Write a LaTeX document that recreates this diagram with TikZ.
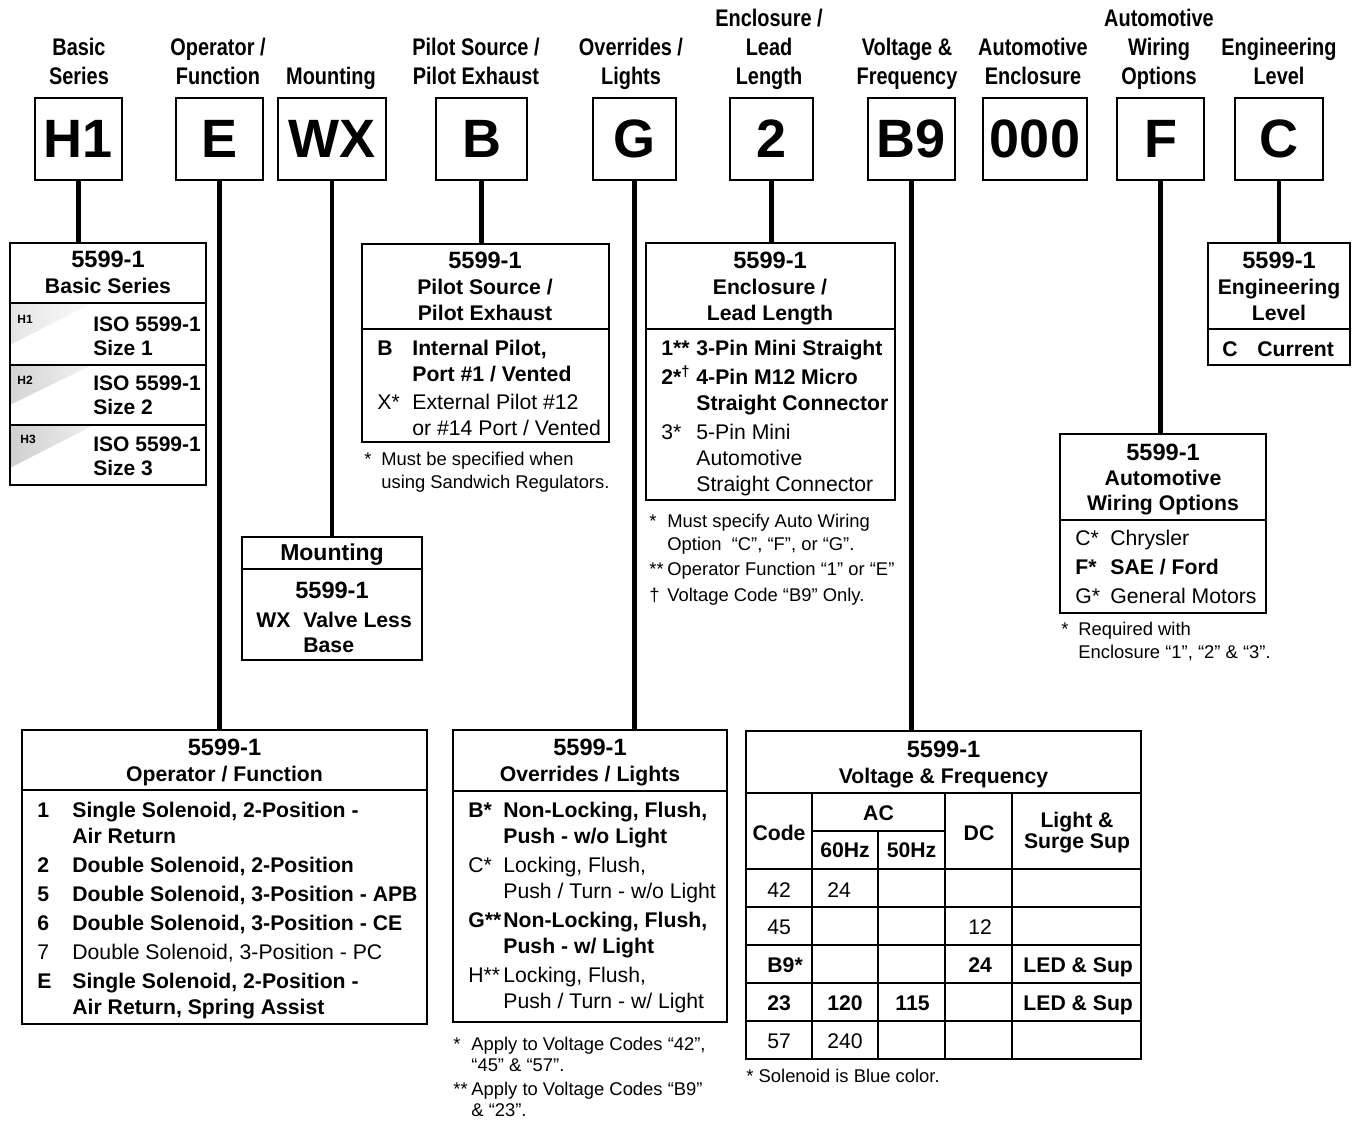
\documentclass[tikz,border=0pt]{standalone}
\usepackage{fontspec}
\setmainfont{Liberation Sans}
\newfontfamily\cond[FakeStretch=0.83]{Liberation Sans}
\usetikzlibrary{fit}
\newcommand{\tbl}[2]{\begin{tabular}[t]{@{}#1@{}}#2\end{tabular}}
\newcommand{\partno}{{\fontsize{11.8}{13}\selectfont 5599-1}}
\tikzset{
	lbl/.style={font=\cond\bfseries\fontsize{12}{14.5}\selectfont, anchor=base, inner sep=0pt},
	code/.style={draw, line width=1pt, inner sep=0pt, minimum height=41pt, font=\bfseries\fontsize{27}{30}\selectfont},
	panel/.style={draw, line width=1.2pt, inner sep=0pt},
	rule/.style={line width=1pt},
	grid/.style={line width=0.8pt},
	wire/.style={line width=2.2pt},
	hd/.style={font=\bfseries\fontsize{10.6}{13}\selectfont, anchor=base, inner sep=0pt},
	item/.style={font=\fontsize{10.6}{13}\selectfont, anchor=base west, inner sep=0pt},
	tag/.style={font=\bfseries\fontsize{6}{7}\selectfont, anchor=base west, inner sep=0pt},
	note/.style={font=\fontsize{9.2}{11.5}\selectfont, anchor=base west, inner sep=0pt},
	th/.style={font=\bfseries\fontsize{10.6}{10.5}\selectfont, anchor=base, inner sep=0pt},
	cell/.style={font=\fontsize{10.6}{12}\selectfont, anchor=base west, inner sep=0pt},
	bcell/.style={cell, font=\bfseries\fontsize{10.6}{12}\selectfont},
}
\begin{document}
\begin{tikzpicture}[x=0.5pt,y=-0.5pt]
	\useasboundingbox (0,0) rectangle (1355,1124);
	% field names
	\node[lbl] (lseries) at (79,55) {\tbl{c}{Basic\\Series}};
	\node[lbl] (loper) at (218,55) {\tbl{c}{Operator /\\Function}};
	\node[lbl] (lmount) at (331,84) {Mounting};
	\node[lbl] (lpilot) at (476,55) {\tbl{c}{Pilot Source /\\Pilot Exhaust}};
	\node[lbl] (lover) at (631,55) {\tbl{c}{Overrides /\\Lights}};
	\node[lbl] (lencl) at (769,26) {\tbl{c}{Enclosure /\\Lead\\Length}};
	\node[lbl] (lvolt) at (907,55) {\tbl{c}{Voltage \&\\Frequency}};
	\node[lbl] (lautoenc) at (1033,55) {\tbl{c}{Automotive\\Enclosure}};
	\node[lbl] (lwiring) at (1159,26) {\tbl{c}{Automotive\\Wiring\\Options}};
	\node[lbl] (leng) at (1279,55) {\tbl{c}{Engineering\\Level}};
	% code boxes
	\node[code, minimum width=43.5pt] (series) at (78.5,139) {H1};
	\node[code, minimum width=43.5pt] (oper) at (219.5,139) {E};
	\node[code, minimum width=54pt] (mount) at (332,139) {WX};
	\node[code, minimum width=45.5pt] (pilot) at (481.5,139) {B};
	\node[code, minimum width=41.5pt] (over) at (634.5,139) {G};
	\node[code, minimum width=41.5pt] (encl) at (771.5,139) {2};
	\node[code, minimum width=43.5pt] (volt) at (911.5,139) {B9};
	\node[code, minimum width=52pt] (autoenc) at (1035,139) {000};
	\node[code, minimum width=43.5pt] (wiring) at (1160.5,139) {F};
	\node[code, minimum width=44pt] (eng) at (1279,139) {C};

	% basic series
	\shade[left color=gray!20, right color=gray!4] (10,303) -- (92,303) -- (10,345) -- cycle;
	\shade[left color=gray!34, right color=gray!10] (10,365) -- (92,365) -- (10,405) -- cycle;
	\shade[left color=gray!38, right color=gray!12] (10,425) -- (94,425) -- (10,468) -- cycle;
	\node[panel, fit={(10,243) (206,485)}] (seriesbox) {};
	\foreach \y in {303,365,425}
		\draw[rule] (seriesbox.west |- 0,\y) -- (seriesbox.east |- 0,\y);
	\node[hd] (serieshd) at (108,267) {\tbl{c}{\partno\\Basic Series}};
	\node[tag] (h1tag) at (17,323) {H1};
	\node[tag] (h2tag) at (17,384) {H2};
	\node[tag] (h3tag) at (20,443) {H3};
	\node[item, font=\bfseries\fontsize{10.5}{12.2}\selectfont] (h1txt) at (93,331) {\tbl{l}{ISO 5599-1\\Size 1}};
	\node[item, font=\bfseries\fontsize{10.5}{12.2}\selectfont] (h2txt) at (93,390) {\tbl{l}{ISO 5599-1\\Size 2}};
	\node[item, font=\bfseries\fontsize{10.5}{12.2}\selectfont] (h3txt) at (93,451) {\tbl{l}{ISO 5599-1\\Size 3}};

	% pilot source
	\node[panel, fit={(362,244) (609,442)}] (pilotbox) {};
	\draw[rule] (pilotbox.west |- 0,329) -- (pilotbox.east |- 0,329);
	\node[hd] (pilothd) at (485,268) {\tbl{c}{\partno\\Pilot Source /\\Pilot Exhaust}};
	\node[item] (pilotitems) at (377,355) {\tbl{p{17.5pt}@{}l}{\textbf{B} & \textbf{Internal Pilot,}\\
		& \textbf{Port \#1 / Vented}\\[1pt]
		X* & External Pilot \#12\\
		& or \#14 Port / Vented}};
	\node[note] (pilotnote) at (364,465) {\tbl{p{8.5pt}@{}l}{* & Must be specified when\\ & using Sandwich Regulators.}};

	% enclosure
	\node[panel, fit={(646,243) (895,500)}] (enclbox) {};
	\draw[rule] (enclbox.west |- 0,329) -- (enclbox.east |- 0,329);
	\node[hd] (enclhd) at (770,268) {\tbl{c}{\partno\\Enclosure /\\Lead Length}};
	\node[item] (enclitems) at (661,355) {\tbl{p{17.5pt}@{}l}{\textbf{1**} & \textbf{3-Pin Mini Straight}\\[1.5pt]
		\textbf{2*\textsuperscript{†}} & \textbf{4-Pin M12 Micro}\\
		& \textbf{Straight Connector}\\[1.5pt]
		3* & 5-Pin Mini\\
		& Automotive\\
		& Straight Connector}};
	\node[note] (enclnote) at (649,527) {\tbl{p{9pt}@{}l}{* & Must specify Auto Wiring\\
		& Option ~“C”, “F”, or “G”.\\[1pt]
		** & Operator Function “1” or “E”\\[1.5pt]
		† & Voltage Code “B9” Only.}};

	% engineering level
	\node[panel, fit={(1208,243) (1350,365)}] (engbox) {};
	\draw[rule] (engbox.west |- 0,329) -- (engbox.east |- 0,329);
	\node[hd] (enghd) at (1279,268) {\tbl{c}{\partno\\Engineering\\Level}};
	\node[item, font=\bfseries\fontsize{10.6}{13}\selectfont] (engitem) at (1222,356) {\tbl{p{17.5pt}@{}l}{C & Current}};

	% automotive wiring
	\node[panel, fit={(1060,434) (1266,613)}] (wiringbox) {};
	\draw[rule] (wiringbox.west |- 0,520) -- (wiringbox.east |- 0,520);
	\node[hd, font=\bfseries\fontsize{10.6}{12.5}\selectfont] (wiringhd) at (1163,460) {\tbl{c}{\partno\\Automotive\\Wiring Options}};
	\node[item] (wiringitems) at (1075,545) {\tbl{p{17.5pt}@{}l}{C* & Chrysler\\[1.5pt]
		\textbf{F*} & \textbf{SAE / Ford}\\[1.5pt]
		G* & General Motors}};
	\node[note] (wiringnote) at (1061,635) {\tbl{p{8.5pt}@{}l}{* & Required with\\ & Enclosure “1”, “2” \& “3”.}};

	% mounting
	\node[panel, fit={(242,537) (422,660)}] (mountbox) {};
	\draw[rule] (mountbox.west |- 0,569) -- (mountbox.east |- 0,569);
	\node[hd, font=\bfseries\fontsize{11.5}{13}\selectfont] (mounthd) at (332,560) {Mounting};
	\node[hd] (mountno) at (332,598) {\partno};
	\node[item, font=\bfseries\fontsize{10.6}{12.5}\selectfont] (mountitem) at (256,627) {\tbl{p{23.5pt}@{}l}{WX & Valve Less\\ & Base}};

	% operator / function
	\node[panel, fit={(22,730) (427,1024)}] (operbox) {};
	\draw[rule] (operbox.west |- 0,790) -- (operbox.east |- 0,790);
	\node[hd] (operhd) at (224.5,755) {\tbl{c}{\partno\\Operator / Function}};
	\node[item] (operitems) at (37,817) {\tbl{p{17.5pt}@{}l}{\textbf{1} & \textbf{Single Solenoid, 2-Position -}\\
		& \textbf{Air Return}\\[1.5pt]
		\textbf{2} & \textbf{Double Solenoid, 2-Position}\\[1.5pt]
		\textbf{5} & \textbf{Double Solenoid, 3-Position - APB}\\[1.5pt]
		\textbf{6} & \textbf{Double Solenoid, 3-Position - CE}\\[1.5pt]
		7 & Double Solenoid, 3-Position - PC\\[1.5pt]
		\textbf{E} & \textbf{Single Solenoid, 2-Position -}\\
		& \textbf{Air Return, Spring Assist}}};

	% overrides / lights
	\node[panel, fit={(453,730) (727,1022)}] (overbox) {};
	\draw[rule] (overbox.west |- 0,791) -- (overbox.east |- 0,791);
	\node[hd] (overhd) at (590,755) {\tbl{c}{\partno\\Overrides / Lights}};
	\node[item] (overitems) at (468,817) {\tbl{p{17.5pt}@{}l}{\textbf{B*} & \textbf{Non-Locking, Flush,}\\
		& \textbf{Push - w/o Light}\\[1.5pt]
		C* & Locking, Flush,\\
		& Push / Turn - w/o Light\\[1.5pt]
		\textbf{G**} & \textbf{Non-Locking, Flush,}\\
		& \textbf{Push - w/ Light}\\[1.5pt]
		H** & Locking, Flush,\\
		& Push / Turn - w/ Light}};
	\node[note, font=\fontsize{9.2}{10.5}\selectfont] (overnote) at (453,1050) {\tbl{p{9pt}@{}l}{* & Apply to Voltage Codes “42”,\\
		& “45” \& “57”.\\[1.5pt]
		** & Apply to Voltage Codes “B9”\\
		& \& “23”.}};

	% voltage & frequency
	\node[panel, fit={(746,731) (1141,1059)}] (voltbox) {};
	\draw[rule] (voltbox.west |- 0,793) -- (voltbox.east |- 0,793);
	\draw[rule] (voltbox.west |- 0,869) -- (voltbox.east |- 0,869);
	\foreach \y in {907,945,983,1021}
		\draw[grid] (voltbox.west |- 0,\y) -- (voltbox.east |- 0,\y);
	\foreach \x in {812,945,1012}
		\draw[grid] (\x,793) -- (\x,1059);
	\draw[grid] (878,831) -- (878,1059);
	\draw[grid] (812,831) -- (945,831);
	\node[hd] (volthd) at (943.5,757) {\tbl{c}{\partno\\Voltage \& Frequency}};
	\node[th] (tcode) at (779,840) {Code};
	\node[th] (tac) at (878.5,820) {AC};
	\node[th] (t60) at (845,857) {60Hz};
	\node[th] (t50) at (911.5,857) {50Hz};
	\node[th] (tdc) at (979,840) {DC};
	\node[th] (tled) at (1077,827) {\tbl{c}{Light \&\\Surge Sup}};
	\node[cell] (r1c) at (767,897) {42};
	\node[cell] (r1a) at (827,897) {24};
	\node[cell] (r2c) at (767,934) {45};
	\node[cell] (r2d) at (968,934) {12};
	\node[bcell] (r3c) at (767,972) {B9*};
	\node[bcell] (r3d) at (968,972) {24};
	\node[bcell] (r3l) at (1023,972) {LED \& Sup};
	\node[bcell] (r4c) at (767,1010) {23};
	\node[bcell] (r4a) at (827,1010) {120};
	\node[bcell] (r4b) at (895,1010) {115};
	\node[bcell] (r4l) at (1023,1010) {LED \& Sup};
	\node[cell] (r5c) at (767,1048) {57};
	\node[cell] (r5a) at (827,1048) {240};
	\node[note] (voltnote) at (746,1082) {* Solenoid is Blue color.};

	% connectors
	\draw[wire] (series.south) -- (series.south |- seriesbox.north);
	\draw[wire] (oper.south) -- (oper.south |- operbox.north);
	\draw[wire] (mount.south) -- (mount.south |- mountbox.north);
	\draw[wire] (pilot.south) -- (pilot.south |- pilotbox.north);
	\draw[wire] (over.south) -- (over.south |- overbox.north);
	\draw[wire] (encl.south) -- (encl.south |- enclbox.north);
	\draw[wire] (volt.south) -- (volt.south |- voltbox.north);
	\draw[wire] (wiring.south) -- (wiring.south |- wiringbox.north);
	\draw[wire] (eng.south) -- (eng.south |- engbox.north);
\end{tikzpicture}
\end{document}
